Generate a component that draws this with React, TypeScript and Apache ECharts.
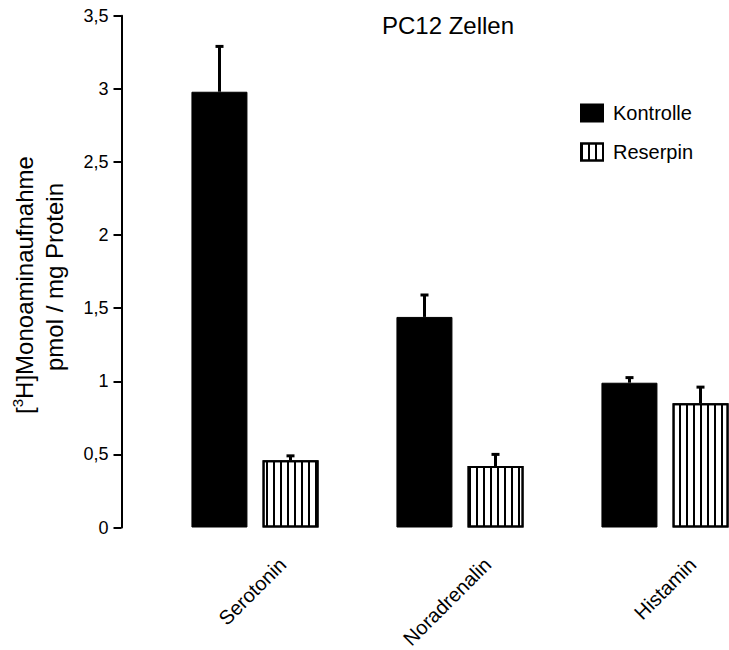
import React, { useEffect, useRef } from "react";
import * as echarts from "echarts";

const categories = ["Serotonin", "Noradrenalin", "Histamin"];
const kontrolle = [2.98, 1.44, 0.99];
const kontrolleErr = [0.31, 0.15, 0.035];
const reserpin = [0.46, 0.42, 0.85];
const reserpinErr = [0.03, 0.08, 0.11];
const yTicks = { min: 0, max: 3.5, interval: 0.5 };

const FONT = "'Liberation Sans', Arial, sans-serif";

function errorSeries(name: string, means: number[], errs: number[], offset: number) {
  return {
    type: "custom",
    name,
    z: 5,
    encode: { x: 0, y: 1 },
    data: categories.map((_, i) => [i, means[i], errs[i]]),
    renderItem: (params: any, api: any) => {
      const idx = api.value(0);
      const mean = api.value(1);
      const sd = api.value(2);
      const base = api.coord([idx, mean]);
      const top = api.coord([idx, mean + sd]);
      const x = base[0] + offset;
      return {
        type: "group",
        children: [
          {
            type: "line",
            shape: { x1: x, y1: base[1], x2: x, y2: top[1] },
            style: { stroke: "#000", lineWidth: 3 },
          },
          {
            type: "rect",
            shape: { x: x - 4, y: top[1] - 1.5, width: 8, height: 3 },
            style: { fill: "#000" },
          },
        ],
      };
    },
  };
}

export default function App() {
  const ref = useRef<HTMLDivElement>(null);
  useEffect(() => {
    if (!ref.current) return;
    const chart = echarts.init(ref.current, null, { renderer: "svg" });
    const half = (56 + 15) / 2;
    chart.setOption({
      animation: false,
      backgroundColor: "#fff",
      textStyle: { fontFamily: FONT },
      title: {
        text: "PC12 Zellen",
        left: 443,
        textAlign: "center",
        top: 8,
        textStyle: { fontFamily: FONT, fontSize: 24, fontWeight: "normal", color: "#000" },
      },
      legend: {
        data: ["Kontrolle", "Reserpin"],
        orient: "vertical",
        left: 575,
        top: 98,
        icon: "rect",
        itemWidth: 22,
        itemHeight: 17,
        itemGap: 19,
        textStyle: { fontFamily: FONT, fontSize: 20, color: "#000", padding: [0, 0, 0, 5] },
      },
      grid: {
        left: 152.5,
        top: 15.7,
        width: 615,
        bottom: 122.5,
        containLabel: false,
        outerBoundsMode: "none",
      },
      xAxis: {
        type: "category",
        data: categories,
        axisLine: { show: false },
        axisTick: { show: false },
        axisLabel: {
          rotate: 45,
          margin: 6,
          align: "right",
          verticalAlign: "top",
          padding: [29, 0, 0, 0],
          fontFamily: FONT,
          fontSize: 20,
          color: "#000",
        },
      },
      yAxis: {
        type: "value",
        min: yTicks.min,
        max: yTicks.max,
        interval: yTicks.interval,
        offset: 31,
        axisLine: { show: true, lineStyle: { color: "#000", width: 2 } },
        axisTick: { show: true, length: 8, lineStyle: { color: "#000", width: 2 } },
        splitLine: { show: false },
        axisLabel: {
          margin: 13,
          fontFamily: FONT,
          fontSize: 18,
          color: "#000",
          formatter: (v: number) => String(v).replace(".", ","),
        },
      },
      graphic: [
        {
          type: "text",
          x: 24,
          y: 285,
          rotation: Math.PI / 2,
          style: {
            text: "{n|[}{s|3}{n|H]Monoaminaufnahme}",
            textAlign: "center",
            textVerticalAlign: "middle",
            rich: {
              n: { fontFamily: FONT, fontSize: 24, color: "#000", lineHeight: 28 },
              s: { fontFamily: FONT, fontSize: 15, color: "#000", lineHeight: 28, verticalAlign: "top" },
            },
          },
        },
        {
          type: "text",
          x: 54,
          y: 277,
          rotation: Math.PI / 2,
          style: {
            text: "pmol / mg Protein",
            textAlign: "center",
            textVerticalAlign: "middle",
            fontFamily: FONT,
            fontSize: 24,
            fill: "#000",
          },
        },
      ],
      series: [
        {
          type: "bar",
          name: "Kontrolle",
          data: kontrolle,
          barWidth: 56,
          barGap: "27%",
          itemStyle: { color: "#000", borderColor: "#000", borderWidth: 1 },
        },
        {
          type: "bar",
          name: "Reserpin",
          data: reserpin,
          barWidth: 56,
          barGap: "27%",
          itemStyle: {
            color: "#fff",
            borderColor: "#000",
            borderWidth: 2,
            decal: {
              symbol: "rect",
              symbolSize: 1,
              color: "#000",
              dashArrayX: [2, 5],
              dashArrayY: [1, 0],
              rotation: 0,
            },
          },
        },
        errorSeries("errK", kontrolle, kontrolleErr, -half),
        errorSeries("errR", reserpin, reserpinErr, half),
      ],
    });
    return () => chart.dispose();
  }, []);
  return (
    <div
      ref={ref}
      style={{ width: 729, height: 650, position: "absolute", left: 0, top: 0 }}
    />
  );
}
